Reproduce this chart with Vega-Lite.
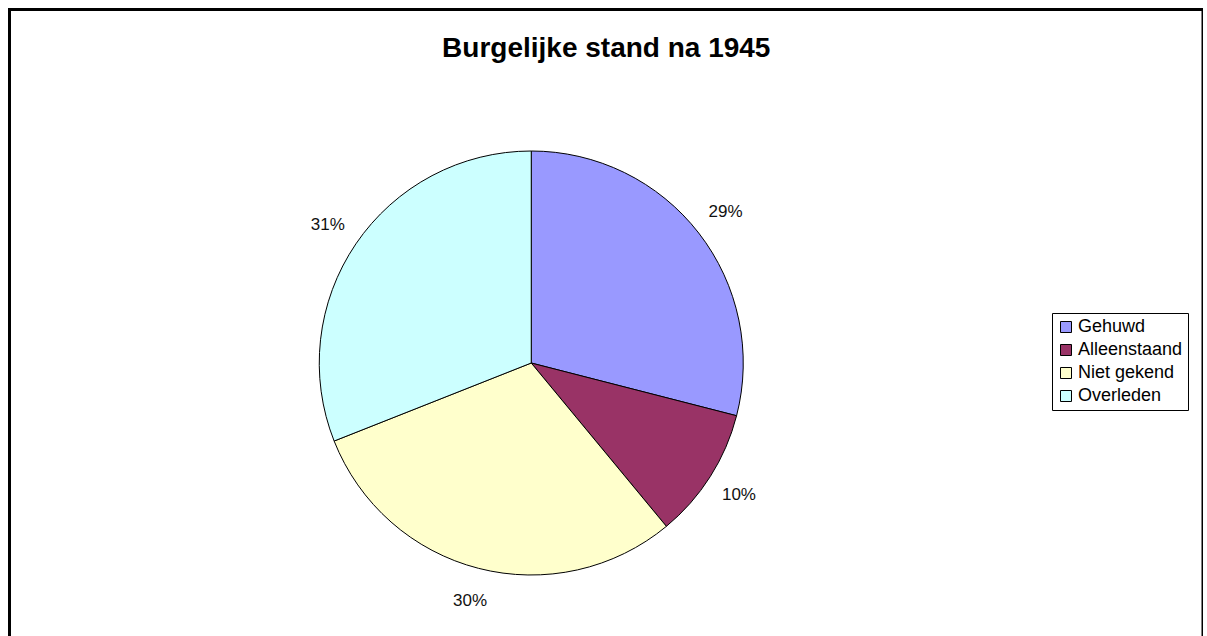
{
  "$schema": "https://vega.github.io/schema/vega-lite/v6.json",
  "autosize": {"type": "none"},
  "padding": {"left": 9.5, "top": 9.5, "right": 0, "bottom": 0},
  "width": 1193.5,
  "height": 707,
  "background": "white",
  "config": {
    "view": {"stroke": "black", "strokeWidth": 3},
    "font": "Liberation Sans"
  },
  "title": {
    "text": "Burgelijke stand na 1945",
    "font": "Liberation Sans",
    "fontSize": 28,
    "fontWeight": "bold",
    "color": "black",
    "anchor": "middle",
    "baseline": "alphabetic",
    "offset": -75
  },
  "data": {
    "values": [
      {"categorie": "Gehuwd", "aandeel": 0.29, "volgorde": 1},
      {"categorie": "Alleenstaand", "aandeel": 0.10, "volgorde": 2},
      {"categorie": "Niet gekend", "aandeel": 0.30, "volgorde": 3},
      {"categorie": "Overleden", "aandeel": 0.31, "volgorde": 4}
    ]
  },
  "layer": [
    {
      "mark": {"type": "rule", "opacity": 0},
      "encoding": {
        "x": {"field": "aandeel", "type": "quantitative", "axis": null}
      }
    },
    {
      "mark": {"type": "arc", "outerRadius": 212, "stroke": "black", "strokeWidth": 1,
               "x": {"expr": "width/2 - 75"}, "y": {"expr": "height/2"}},
      "encoding": {
        "theta": {"field": "aandeel", "type": "quantitative", "stack": true},
        "order": {"field": "volgorde", "type": "quantitative"},
        "color": {
          "field": "categorie", "type": "nominal",
          "scale": {
            "domain": ["Gehuwd", "Alleenstaand", "Niet gekend", "Overleden"],
            "range": ["#9999FF", "#993366", "#FFFFCC", "#CCFFFF"]
          },
          "legend": {
            "title": null,
            "orient": "none",
            "legendX": 1042.5,
            "legendY": 303.5,
            "symbolType": "square",
            "symbolSize": 121,
            "symbolStrokeColor": "black",
            "symbolStrokeWidth": 1,
            "labelFont": "Liberation Sans",
            "labelFontSize": 18,
            "labelColor": "black",
            "labelOffset": 3,
            "rowPadding": 5,
            "padding": 5,
            "strokeColor": "black",
            "fillColor": "white"
          }
        }
      }
    },
    {
      "mark": {"type": "text", "radius": 246, "fontSize": 17, "color": "#111",
               "font": "Liberation Sans",
               "x": {"expr": "width/2 - 75"}, "y": {"expr": "height/2"}},
      "encoding": {
        "theta": {"field": "aandeel", "type": "quantitative", "stack": true},
        "order": {"field": "volgorde", "type": "quantitative"},
        "text": {"field": "aandeel", "type": "quantitative", "format": ".0%"}
      }
    }
  ]
}
